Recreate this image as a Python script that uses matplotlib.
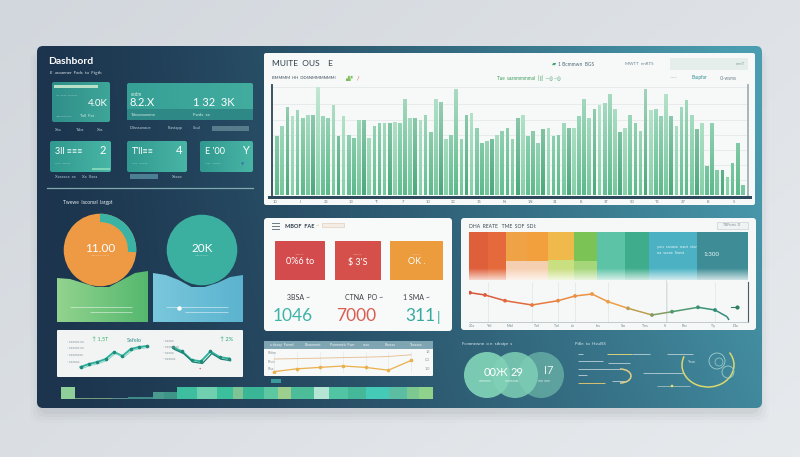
import numpy as np
import matplotlib
matplotlib.use('Agg')
import matplotlib.pyplot as plt
from matplotlib.patches import FancyBboxPatch, Circle, Arc, Rectangle, PathPatch
from matplotlib.path import Path
from matplotlib.collections import LineCollection
from matplotlib.colors import to_rgb, LinearSegmentedColormap

plt.rcParams['font.family'] = ['Lato', 'DejaVu Sans']

# ---- data ----
bar_values = [55, 64, 82, 73, 79, 71, 74, 74, 100, 73, 71, 83, 55, 73, 56, 53, 70, 70, 53, 64,
              67, 67, 67, 68, 67, 89, 71, 71, 70, 74, 58, 89, 86, 52, 56, 98, 52, 74, 76, 62,
              48, 50, 52, 56, 59, 62, 52, 71, 74, 55, 59, 48, 61, 62, 55, 56, 67, 62, 62, 73,
              89, 71, 80, 83, 85, 94, 80, 58, 62, 74, 67, 59, 98, 79, 80, 73, 94, 73, 64, 82,
              88, 74, 61, 67, 27, 67, 23, 23, 17, 30, 48, 9]
bar_ticks = ['10', 'II', '25', '13', 'TI', '7', '10', '3C', '15', 'N', '1N', '31', 'I6', '3T', '50', 'T5', '37', 'I8', '5']

donut_values = [26, 74]
green_area = [44, 43, 39, 35, 35, 42, 49, 51]
blue_area = [49, 47, 42, 35, 35, 39, 45, 47]

trend1 = [12, 15, 17, 20, 27, 23, 30, 32, 33]
trend2 = [30, 27, 21, 20, 27, 23, 22]

mini_upper = [10, 10.3, 10.6, 11, 11.3, 11.8, 13]
mini_lower = [1, 3, 4, 5, 4, 2, 9]

strip_widths = [14, 37, 16, 25, 11, 13, 20, 20, 16, 10, 20, 14, 13, 23, 15, 19, 18, 23, 18, 12, 14]
strip_values = [100, 10, 12, 16, 55, 60, 100, 100, 100, 100, 100, 100, 100, 100, 100, 100, 100,
                100, 100, 100, 100]

band_widths = [19, 18, 21, 21, 26, 23, 28, 24, 48, 51]
band_values = [100, 100, 100, 100, 100, 100, 100, 100, 100, 100]
band_low = [0, 0, 40, 40, 42, 40, 0, 0, 0, 0]

line_x = [1, 16, 36, 63, 89, 106, 123, 139, 159, 183, 203, 229, 246, 258, 260]
line_y = [29.3, 27, 21.3, 17, 21.3, 26, 28, 20.3, 13.7, 7, 10.3, 14.7, 12, 5.3, 2]
line_grid = [19, 63, 89, 106, 139, 198, 246]
line_ticks = ['20x', 'YeI', 'MoI', 'TeI', 'TeI', 'Ju', 'Ins', 'Sin', 'Tes', 'S', 'Pec', 'Ty', 'Dia']

kpi_cards = ['1046', '7000', '311']
kpi_names = ['3BSA', 'CTNA  PO', '1 SMA']

# ---- colours ----
bar_palette = ['#5cb98a', '#74c79c', '#4aa97c', '#86d0a8', '#62bf92']
strip_colors = ['#8fcf9a', '#6f9f7c', '#5a8e90', '#3d8a88', '#4a9a90', '#3f9488', '#3dbf9f',
                '#6fcfae', '#3cbf9c', '#7ec494', '#3ab596', '#5cc7a0', '#9ccf8e', '#4cbd98',
                '#b5e5d5', '#50c4a3', '#45b899', '#45cab8', '#5bbea2', '#7cc890', '#8ed28c']
band_colors = ['#df5f3a', '#e4693b', '#f0a247', '#f29f3d', '#f0b94b', '#7cc355', '#5cc3a6',
               '#3fad8b', '#4cb2c3', '#3e8d96']
band_low_colors = ['#f1a58a', '#f1a58a', '#f6cfb2', '#f5d0b0', '#c9df80', '#a6d67a', '#5cc3a6',
                   '#3fad8b', '#4cb2c3', '#3e8d96']

W, H = 800, 457
fig = plt.figure(figsize=(8, 4.57), dpi=100)
fig.patch.set_facecolor('#dfe2e6')
bg = fig.add_axes([0, 0, 1, 1])
bg.set_axis_off()


def blend(c1, c2, t):
    a, b = np.array(to_rgb(c1)), np.array(to_rgb(c2))
    return a + (b - a) * np.asarray(t)[..., None]


def sub(x, y, w, h):
    ax = fig.add_axes([x / W, 1 - (y + h) / H, w / W, h / H])
    ax.patch.set_alpha(0)
    return ax


def label(x, y, s, size=4, color='white', ha='left', va='center', **kw):
    fig.text(x / W, 1 - y / H, s, fontsize=size, color=color, ha=ha, va=va, **kw)


def panel(x, y, w, h, color, r=3, z=3, **kw):
    p = FancyBboxPatch((x, y), w, h, boxstyle='round,pad=0,rounding_size=%s' % r,
                       fc=color, ec='none', zorder=z, **kw)
    bg.add_patch(p)
    return p


def grad_panel(x, y, w, h, c1, c2, r=2, z=3, vertical=False):
    p = panel(x, y, w, h, 'none', r, z)
    t = np.linspace(0, 1, 64)
    img = blend(c1, c2, t)[:, None, :] if vertical else blend(c1, c2, t)[None, :, :]
    im = bg.imshow(img, extent=(x, x + w, y + h, y), origin='upper', aspect='auto',
                   zorder=z, interpolation='bilinear')
    im.set_clip_path(p)
    return p


# page + shadow
yy, xx = np.mgrid[0:1:60j, 0:1:100j]
page = blend('#d2d7dd', '#e7eaed', np.clip(0.6 * xx + 0.4 * yy, 0, 1))
bg.imshow(page, extent=(0, W, H, 0), origin='upper', aspect='auto', zorder=0)
for i, a in enumerate([0.06, 0.045, 0.03, 0.02]):
    s = 2 + 3 * i
    bg.add_patch(FancyBboxPatch((41 - s, 52), 717 + 2 * s, 360 + s,
                                boxstyle='round,pad=0,rounding_size=10', fc='#56636f',
                                ec='none', alpha=a, zorder=1))

# main dark panel
frame = FancyBboxPatch((37, 46), 725, 362, boxstyle='round,pad=0,rounding_size=6',
                       fc='none', ec='none', zorder=2)
bg.add_patch(frame)
yy, xx = np.mgrid[0:1:90j, 0:1:180j]
tone = np.clip(0.8 * xx ** 1.3 + 0.25 * (1 - yy) * xx, 0, 1)
im = bg.imshow(blend('#1c344d', '#4a9db0', tone), extent=(37, 762, 408, 46), origin='upper',
               aspect='auto', zorder=2, interpolation='bilinear')
im.set_clip_path(frame)

# ---- top left: title and KPI cards ----
label(48, 61, 'Dashbord', 7.5, weight='bold')
label(50, 73, 'E  aroanner  Fxds  to  Ftgth', 3.2, color='#d8e4ea')

grad_panel(52, 82, 58, 40, '#2f8f8a', '#3ea598')
bg.add_patch(Rectangle((54, 85), 44, 2.5, fc='#b9e0c8', ec='none', zorder=4))
label(56, 96, '— —— ———', 3, color='#c9eadf')
label(108, 103, '4.0K', 7, ha='right')
label(56, 117, '——————', 2.5, color='#cfe8e0')
label(80, 116, 'Tell  Fxt', 3, color='#d8f0e8')
for x0, s in [(55, 'Xaa'), (76, 'Tabs'), (97, 'Xas')]:
    label(x0, 130, s, 3, color='#b8ccd6')

grad_panel(127, 83, 126, 37, '#36a096', '#42ac9f', z=3)
bg.add_patch(Rectangle((127, 109), 126, 11, fc='#2d8886', ec='none', zorder=4))
label(131, 95, 'cedm', 3.3, color='#d8f0e8')
label(130, 103, '8.2.X', 8)
label(193, 103, '1 32  3K', 8)
label(131, 115, 'Txbsxxnumnsn', 2.8, color='#cfe8e0')
label(193, 115, 'Fwds  xx', 3.2, color='#d8f0e8')
for x0, s in [(130, 'Ddsssanoue'), (168, 'Flastapp'), (193, 'Soul')]:
    label(x0, 128, s, 3, color='#b8ccd6')
bg.add_patch(Rectangle((212, 126), 37, 5, fc='#587c8c', ec='none', zorder=4))

for (x0, w0), big, small in [((50, 61), '3ll ≡≡≡', '2'), ((127, 60), "T'll≡≡", '4'),
                              ((200, 53), "E '00", 'Y')]:
    grad_panel(x0, 141, w0, 31, '#31998f', '#48b5a6')
    label(x0 + 5, 152, big, 6.5)
    label(x0 + w0 - 8, 151, small, 8, ha='center')
    label(x0 + 5, 164, '——  ———', 2.5, color='#c9eadf')
bg.add_patch(Rectangle((92, 168), 18, 1.5, fc='#7fd6b6', ec='none', zorder=4))
label(243, 164, '▼', 3, color='#3a6fb0', ha='center')
label(55, 177, 'Xxxxxcx  xx', 3, color='#b8ccd6')
label(82, 177, 'Xx  Xxxa', 3, color='#b8ccd6')
bg.add_patch(Rectangle((130, 174), 28, 4.5, fc='#4d7f94', ec='none', zorder=4))
label(172, 177, 'Xxxxx', 3, color='#b8ccd6')
bg.plot([47, 253], [188, 188], color='#7fa9ae', lw=0.9, zorder=4)

# ---- wave areas, then the circles sitting on them ----
label(63, 203, 'Twewe  lacomal  largpt', 3.5, color='#e3edf2')
for k, ((x0, w0), vals, c1, c2) in enumerate([((57, 91), green_area, '#92d38e', '#55b86e'),
                                             ((153, 90), blue_area, '#79c7dc', '#5bb3cf')]):
    ax = sub(x0, 262, w0, 60)
    xs = np.arange(len(vals))
    poly = ax.fill_between(xs, 0, vals, color='none', lw=0)
    img = blend(c1, c2, np.linspace(0, 1, 64))[None, :, :]
    gi = ax.imshow(img, extent=(0, len(vals) - 1, 0, 60), aspect='auto', zorder=1)
    clip = PathPatch(poly.get_paths()[0], transform=ax.transData, fc='none', ec='none')
    ax.add_patch(clip)
    gi.set_clip_path(clip)
    ax.hlines([15, 10], [1, 2.5], [5.8, 5.8], colors='white', lw=0.6, alpha=0.55, zorder=2)
    if k == 1:
        ax.plot([2], [14], 'o', color='white', ms=2.2, zorder=3)
    ax.set_xlim(0, len(vals) - 1)
    ax.set_ylim(0, 60)
    ax.set_axis_off()

ax = sub(62, 213, 76, 74)
ax.add_patch(Circle((0, 0), 1, fc='#ee9a44', ec='none'))
ax.pie(donut_values, colors=['#3bb3a4', (0, 0, 0, 0)], startangle=90, counterclock=False,
       wedgeprops=dict(width=0.23, linewidth=0))
ax.set_xlim(-1.02, 1.02)
ax.set_ylim(-1.02, 1.02)
ax = sub(166, 214, 72, 72)
ax.add_patch(Circle((0, 0), 1, fc='#3bb0a1', ec='none'))
ax.set_xlim(-1.02, 1.02)
ax.set_ylim(-1.02, 1.02)
ax.set_aspect('equal')
ax.set_axis_off()
label(100, 249, '11.00', 8.5, ha='center')
label(100, 256, '———————', 2.5, color='#fde6cc', ha='center')
label(202, 248, '20K', 8.5, ha='center')
label(202, 256, '—————', 2.5, color='#cfeee6', ha='center')

# ---- small trend panel ----
panel(57, 330, 186, 47, '#f2f4f4', r=1)
for y0, s in [(342, '· xxxxxx xx'), (348, '· xxxxxx xx'), (355, '· xxxxxxxx'), (362, '· xxxxxx')]:
    label(67, y0, s, 2.6, color='#8a9aa0')
label(92, 340, '↑ 1,5T', 4, color='#3cb06c')
label(127, 340, 'Safelo', 4, color='#2f8f88')
for y0, s in [(341, '· xxxxx'), (347, '· xxxxxxxx'), (353, '· xxxxx'), (359, '· xxxxxx')]:
    label(163, y0, s, 2.6, color='#8a9aa0')
label(220, 340, '↑ 2%', 4, color='#2aa07c')
ax = sub(78, 343, 72, 28)
ax.plot(range(len(trend1)), trend1, color='#2fb39d', lw=1.4)
ax.plot(np.arange(len(trend1)) + 0.15, np.array(trend1) - 1.5, color='#7fd2c4', lw=0.7)
ax.plot(range(len(trend1)), trend1, 'o', color='#1f8a7a', ms=1.6)
ax.set_xlim(-0.3, len(trend1) - 0.7)
ax.set_ylim(8, 36)
ax.set_axis_off()
ax = sub(170, 343, 62, 24)
ax.plot(range(len(trend2)), trend2, color='#2fb39d', lw=1.4)
ax.plot(np.arange(len(trend2)) + 0.15, np.array(trend2) - 1.5, color='#1d7f72', lw=0.9)
ax.plot(range(len(trend2)), trend2, 'o', color='#1f8a7a', ms=1.6)
ax.set_xlim(-0.3, len(trend2) - 0.7)
ax.set_ylim(16, 33)
ax.set_axis_off()
label(199, 369, '•', 3, color='#e0606a')

# bottom colour strip
ax = sub(61, 387, 372, 12)
edges = np.concatenate([[0], np.cumsum(strip_widths)[:-1]])
ax.bar(edges, strip_values, width=strip_widths, align='edge', color=strip_colors, lw=0)
ax.set_xlim(0, sum(strip_widths))
ax.set_ylim(0, 100)
ax.set_axis_off()
bg.add_patch(Rectangle((271, 379), 10, 4, fc='#3a9c9a', ec='none', zorder=4))

# ---- big bar chart panel ----
panel(264, 53, 491, 152, '#f7f8f8', r=2)
label(272, 64, 'MUITE  OUS    E', 6, color='#2f3f4a')
label(272, 78, 'BMMMM  HH  DDSNMMMNMMI  ', 3, color='#3c4d58')
label(345, 78, '▟▞ ', 3.5, color='#7cbf5a')
label(357, 78, '/', 4, color='#d63c3c')
label(552, 64, '▰', 4, color='#4aa56e')
label(558, 64, '1 Bcmmwn  BGS', 3.5, color='#4e6a76')
label(625, 64, 'MWTT  nnRTS', 3.2, color='#6a8590')
bg.add_patch(Rectangle((670, 58), 78, 12, fc='#e6eeeb', ec='none', zorder=4))
label(745, 64, 'mmT', 3.2, color='#8aa0a6', ha='right')
label(497, 78, 'Tue  saanmmmmal', 3.3, color='#3c9e5c')
label(538, 78, '[∥]  —◎ ~◎', 3.3, color='#4aa56e')
label(670, 78, '—·—', 3.2, color='#8aa0a6')
label(692, 78, 'Bsupfar', 3.3, color='#2b8c90')
label(720, 78, 'Cl·wsms', 3.3, color='#6a7d86')

ax = sub(272, 85, 476, 110)
n = len(bar_values)
bars = ax.bar(range(n), bar_values, width=0.72,
              color=[bar_palette[i % len(bar_palette)] for i in range(n)], lw=0, zorder=2)
paths = [b.get_path().transformed(b.get_patch_transform()) for b in bars]
clip = PathPatch(Path.make_compound_path(*paths), transform=ax.transData, fc='none', ec='none')
ax.add_patch(clip)
shade = np.ones((100, 1, 4))
shade[:, 0, 3] = np.linspace(0.5, 0.0, 100)
gi = ax.imshow(shade, extent=(-1, n, 0, 100), origin='upper', aspect='auto', zorder=3)
gi.set_clip_path(clip)
ax.set_xlim(-1, n)
ax.set_ylim(0, 102)
ax.set_yticks([14, 28, 42, 56, 70, 84, 100])
ax.grid(axis='y', color='#e4e9ea', lw=0.6, zorder=0)
ax.tick_params(length=0, labelleft=False, labelbottom=False)
for s in ['top', 'bottom']:
    ax.spines[s].set_visible(False)
ax.spines['left'].set_color('#2b4656')
ax.spines['left'].set_linewidth(1.3)
ax.spines['right'].set_color('#9fb0b6')
ax.spines['right'].set_linewidth(1.3)
bg.add_patch(Rectangle((268, 196), 484, 3, fc='#2c4a5b', ec='none', zorder=4))
for i, s in enumerate(bar_ticks):
    label(275 + i * 25.5, 202, s, 3, color='#6d7f88', ha='center')

# ---- middle KPI panel ----
panel(264, 218, 188, 113, '#f8f9f9', r=3)
for y0 in [223, 226, 229]:
    bg.plot([272, 279], [y0, y0], color='#6d7a82', lw=0.7, zorder=4)
label(285, 226, 'MBOF  FAE', 4, color='#2f3f4a', weight='bold')
label(316, 226, '~', 4, color='#e0b060')
bg.add_patch(Rectangle((322, 223), 22, 4, fc='#f4ede6', ec='#e0c6b0', lw=0.4, zorder=4))
for (x0, w0), col, s in [((275, 50), '#d44b4e', '0%6 to'), ((335, 46), '#d6504b', "$ 3'S"),
                         ((390, 53), '#ec9b3d', 'OK .')]:
    panel(x0, 241, w0, 39, col, r=0.5, z=4)
    label(x0 + w0 / 2, 255, '———', 3, color='#f6d8d0', ha='center')
    label(x0 + w0 / 2, 262, s, 6.5, ha='center')
for x0, s in zip([287, 345, 403], kpi_names):
    label(x0, 297, s + ' ~', 5, color='#3a3f44')
for x0, s, col in zip([293, 356, 420], kpi_cards, ['#3fb3a8', '#d95d50', '#35aaa0']):
    label(x0, 316, s, 12.5, color=col, ha='center')
label(437, 318, '|', 10, color='#35aaa0')

# mini line panel
panel(264, 341, 169, 35, '#f7f8f8', r=1)
bg.add_patch(Rectangle((264, 341), 169, 8, fc='#7fa5b2', ec='none', zorder=4))
for x0, s in [(270, 'x dxaay  Fwnnl'), (305, 'Buwnnnnt'), (330, 'Pxnmmeb  Fwn'),
              (363, 'xxxx'), (385, 'Rxxxxx'), (410, 'Txxxxxx')]:
    label(x0, 345, s, 2.6, color='#eef4f6')
for y0, s in [(353, 'Rhbn'), (362, 'Pnct'), (369, 'Rha')]:
    label(268, y0, s, 2.8, color='#8a969c')
for y0, s in [(352, '16'), (360, 'C3'), (369, '1.0')]:
    label(430, y0, s, 2.8, color='#8a969c', ha='right')
ax = sub(272, 352, 146, 21)
ax.plot(range(len(mini_upper)), mini_upper, color='#e6c49a', lw=0.7)
ax.plot(range(len(mini_lower)), mini_lower, color='#eab04c', lw=0.9, marker='o', ms=1.6)
ax.set_xticks(range(len(mini_lower)))
ax.grid(axis='x', color='#e6eaea', lw=0.5)
ax.tick_params(length=0, labelleft=False, labelbottom=False)
for s in ax.spines.values():
    s.set_visible(False)
ax.set_xlim(-0.1, len(mini_lower) - 0.7)
ax.set_ylim(0, 15)

# ---- right band panel ----
panel(461, 218, 295, 112, '#f6f8f8', r=3)
label(469, 226, 'DHA  REATE   TME  SOF  SDI:', 3.6, color='#3a474f')
bg.add_patch(Rectangle((717, 222), 31, 7, fc='#f0f3f3', ec='#bfcacc', lw=0.4, zorder=4))
label(732, 225.5, 'TBFtrtst  D', 2.5, color='#7a8a90', ha='center')
ax = sub(469, 232, 279, 48)
bedges = np.concatenate([[0], np.cumsum(band_widths)[:-1]])
ax.bar(bedges, band_values, width=band_widths, align='edge', color=band_colors, lw=0)
ax.bar(bedges, band_low, width=band_widths, align='edge', color=band_low_colors, lw=0)
fade = np.ones((50, 1, 4))
fade[:, 0, 3] = np.linspace(0, 0.75, 50)
ax.imshow(fade, extent=(0, sum(band_widths), 0, 25), origin='upper', aspect='auto', zorder=3)
ax.set_xlim(0, sum(band_widths))
ax.set_ylim(0, 100)
ax.set_axis_off()
label(657, 247, 'you  sanose  naut  vior', 3, color='#e6f4f6')
label(657, 253, 'na  weae  linest', 3, color='#e6f4f6')
label(703, 254, '1:300', 4.5, color='#e6f4f6')
bg.plot([666, 666], [256, 322], color='#c9d3d6', lw=0.5, zorder=5)

ax = sub(469, 282, 279, 40)
cmap = LinearSegmentedColormap.from_list('ln', ['#d9533a', '#e8803e', '#eea044', '#3f9a72', '#2d7f7f'])
pts = np.column_stack([line_x, line_y]).reshape(-1, 1, 2)
segs = np.concatenate([pts[:-1], pts[1:]], axis=1)
lc = LineCollection(segs, cmap=cmap, lw=1.1)
lc.set_array(np.array(line_x[:-1], dtype=float))
lc.set_clim(0, 279)
ax.add_collection(lc)
ax.scatter(line_x[:-2], line_y[:-2], c=line_x[:-2], cmap=cmap, vmin=0, vmax=279, s=3, zorder=3)
ax.plot([262, 268], [15, 15], color='#2e7f5e', lw=0.8)
ax.plot([268], [15], 'o', color='#2e7f5e', ms=2)
ax.set_xticks(line_grid)
ax.grid(axis='x', color='#dfe5e6', lw=0.5)
ax.tick_params(length=0, labelleft=False, labelbottom=False)
for s in ['top', 'left']:
    ax.spines[s].set_visible(False)
ax.spines['bottom'].set_color('#b8c2c6')
ax.spines['bottom'].set_linewidth(0.6)
ax.spines['right'].set_color('#4b5a62')
ax.spines['right'].set_linewidth(0.8)
ax.set_xlim(0, 279)
ax.set_ylim(0, 40)
for x0, s in zip([472, 490, 510, 537, 557, 573, 598, 623, 645, 665, 685, 713, 735], line_ticks):
    label(x0, 326, s, 2.7, color='#6d7f88', ha='center')

# ---- bottom right ----
label(462, 344, 'Fcnnnewnn  o n  stbatpr  s', 3.2, color='#dbe8ee')
for cx, a in [(487, 0.95), (515, 0.85), (541, 0.55)]:
    bg.add_patch(Circle((cx, 375), 23, fc='#7fd0b6', ec='none', alpha=a, zorder=4))
label(484, 372, '00Ж', 8)
label(511, 372, '29', 8)
label(544, 371, 'I7', 8, color='#e6f6f2')
for cx, s in [(485, 'mmmmm'), (512, 'mmm mm'), (544, 'mm  mm')]:
    label(cx, 381, s, 2.2, color='#e6f6f2', ha='center')

label(575, 344, 'Pdle  to  HaulSS', 3.2, color='#dbe8ee')
flow_y = [354, 354, 354, 361, 363, 369, 375, 381, 383, 354, 373, 386]
flow_x0 = [578, 607, 632, 578, 608, 578, 578, 612, 578, 667, 643, 657]
flow_x1 = [583, 632, 650, 603, 630, 620, 587, 625, 605, 693, 683, 690]
flow_c = ['#a9c4cc', '#d8d27a', '#a8c8d0', '#a9c4cc', '#a9c4cc', '#a9c4cc', '#a9c4cc',
          '#a9c4cc', '#d8c070', '#a9c4cc', '#a9c4cc', '#8fb4bc']
bg.hlines(flow_y, flow_x0, flow_x1, colors=flow_c, lw=0.7, zorder=4)
bg.add_patch(Arc((620, 376), 22, 14, theta1=-90, theta2=90, color='#e0cf8a', lw=1.1, zorder=4))
bg.add_patch(Arc((708, 365), 52, 44, theta1=-30, theta2=200, color='#dcd870', lw=1.1, zorder=4))
bg.add_patch(Circle((717, 361), 8, fc='none', ec='#9fd0c8', lw=0.6, zorder=4))
bg.add_patch(Circle((728, 372), 6, fc='none', ec='#9fd0c8', lw=0.6, zorder=4))
bg.add_patch(Circle((719, 362), 4, fc='none', ec='#9fd0c8', lw=0.5, zorder=4))
bg.add_patch(Circle((672, 386), 1.3, fc='#e8e070', ec='none', zorder=4))
label(688, 362, 'Yean', 2.6, color='#dbe8ee')

bg.set_xlim(0, W)
bg.set_ylim(H, 0)
fig.savefig('out.png', dpi=100, facecolor=fig.get_facecolor())
